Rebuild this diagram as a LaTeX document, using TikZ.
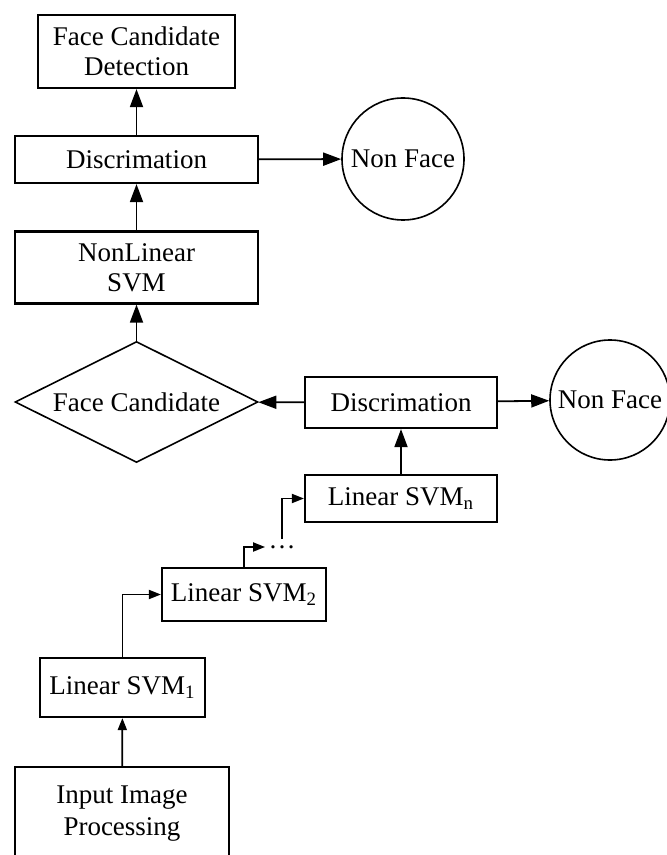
\documentclass[tikz,border=0pt]{standalone}
\usepackage{fontspec}
\setmainfont{Liberation Serif}
\usetikzlibrary{shapes.geometric}
\usetikzlibrary{arrows.meta}

\begin{document}
\begin{tikzpicture}[x=0.5pt, y=-0.5pt,
    box/.style={draw, line width=1.1pt, align=center, inner sep=0pt,
                font=\fontsize{13.5}{15}\selectfont},
    nonface/.style={draw, circle, line width=0.8pt, inner sep=0pt,
                font=\fontsize{13.5}{15}\selectfont},
    decision/.style={draw, diamond, line width=0.8pt, inner sep=0pt, shape aspect=2,
                minimum width=121.5pt, minimum height=60.5pt,
                font=\fontsize{13.5}{15}\selectfont},
    bigarrow/.style={-{Triangle[length=9pt, width=6.5pt]}, line width=0.9pt},
    smallarrow/.style={-{Triangle[length=6pt, width=4.5pt]}, line width=0.9pt}]
    \useasboundingbox (0,0) rectangle (667,855);

    % Upper stage
    \node [box, minimum width=98.5pt, minimum height=36.5pt] (detect) at (136.5,51.5) {Face Candidate\\Detection};
    \node [box, minimum width=121.5pt, minimum height=23.5pt] (disc1) at (136.5,159.5) {Discrimation};
    \node [nonface, minimum size=61pt] (nf1) at (403,159) {Non Face};
    \node [box, minimum width=121.5pt, minimum height=36pt] (nlsvm) at (136.5,267.5) {NonLinear\\SVM};

    % Candidate test
    \node [decision] (cand) at (136.5,402) {Face Candidate};
    \node [box, minimum width=96pt, minimum height=25.5pt] (disc2) at (401,402.5) {Discrimation};
    \node [nonface, minimum size=60pt] (nf2) at (610,400) {Non Face};

    % Linear SVM cascade
    \node [box, minimum width=96pt, minimum height=23.5pt] (svmn) at (401,498.5) {Linear SVM\textsubscript{n}};
    \node [inner sep=0pt, font=\fontsize{13.5}{15}\selectfont] (dots) at (282,547) {\dots};
    \node [box, minimum width=82pt, minimum height=26.5pt] (svm2) at (244,594.5) {Linear SVM\textsubscript{2}};
    \node [box, minimum width=82.5pt, minimum height=29.5pt] (svm1) at (122.5,687.5) {Linear SVM\textsubscript{1}};
    \node [box, minimum width=107pt, minimum height=47pt] (input) at (122,814) {Input Image\\[1pt]Processing};

    % Connectors
    \draw [smallarrow] (input) -- (svm1);
    \draw [smallarrow] (svm1.north) |- (svm2.west);
    \draw [smallarrow, shorten >=1.5pt] (svm2.north) |- (dots.west);
    \draw [smallarrow] ([yshift=3pt]dots.north) |- (svmn.west);
    \draw [bigarrow] (svmn) -- (disc2);
    \draw [bigarrow] (disc2) -- (cand);
    \draw [bigarrow] (disc2) -- (nf2);
    \draw [bigarrow] (cand) -- (nlsvm);
    \draw [bigarrow] (nlsvm) -- (disc1);
    \draw [bigarrow] (disc1) -- (nf1);
    \draw [bigarrow] (disc1) -- (detect);
\end{tikzpicture}
\end{document}
